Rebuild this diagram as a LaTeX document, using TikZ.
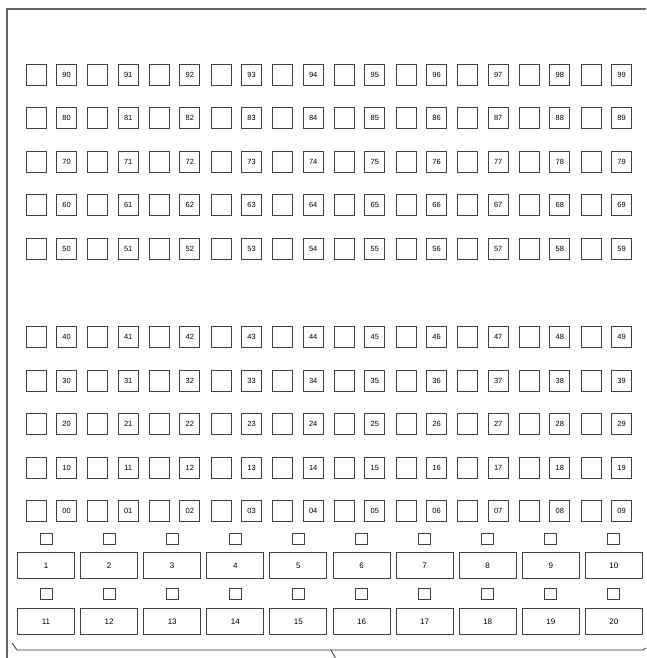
\documentclass[tikz,border=0pt]{standalone}
\usepackage{fontspec}
\setmainfont{Liberation Sans}
\begin{document}
\begin{tikzpicture}[x=1pt,y=-1pt,
  cell/.style={draw=black!75,line width=0.9pt,minimum width=20pt,minimum height=21pt,inner sep=0pt,font=\fontsize{7.5}{9}\selectfont},
  smallsq/.style={draw=black!75,line width=0.9pt,minimum width=12pt,minimum height=11pt,inner sep=0pt},
  bigbox/.style={draw=black!75,line width=0.9pt,minimum width=57pt,minimum height=26pt,inner sep=0pt,font=\fontsize{8}{9}\selectfont},
  frameline/.style={draw=black!60,line width=1.3pt},
  braceline/.style={draw=black!80,line width=0.8pt}]
\useasboundingbox (0,0) rectangle (646,658);
% frame
\coordinate (fbl) at (7,658);
\coordinate (ftl) at (7,9);
\coordinate (ftr) at (646,9);
\draw[frameline] (fbl) -- (ftl) -- (ftr);
% brace
\coordinate (bra) at (12,643);
\coordinate (brb) at (17,650);
\coordinate (brm) at (331,650);
\coordinate (brt) at (336,659);
\coordinate (brc) at (643,650);
\coordinate (brd) at (646,648);
\draw[braceline] (bra) -- (brb) -- (brc) -- (brd);
\draw[braceline] (brm) -- (brt);
% grid of cells
\foreach \r in {0,...,9} {
  \pgfmathsetmacro\yy{\r<5 ? 511-43.5*\r : 249-43.6*(\r-5)}
  \foreach \c in {0,...,9} {
    \node[cell] (e\r\c) at ({36+61.67*\c},\yy) {};
    \node[cell] (l\r\c) at ({66.5+61.67*\c},\yy) {\r\c};
  }
}
% bottom boxes
\foreach \i in {1,...,10} {
  \pgfmathsetmacro\xx{46+63.1*(\i-1)}
  \pgfmathtruncatemacro\j{\i+10}
  \node[smallsq] (sa\i) at (\xx,539) {};
  \node[bigbox] (ba\i) at (\xx,565.5) {\i};
  \node[smallsq] (sb\i) at (\xx,593.5) {};
  \node[bigbox] (bb\i) at (\xx,621.5) {\j};
}
\end{tikzpicture}
\end{document}
